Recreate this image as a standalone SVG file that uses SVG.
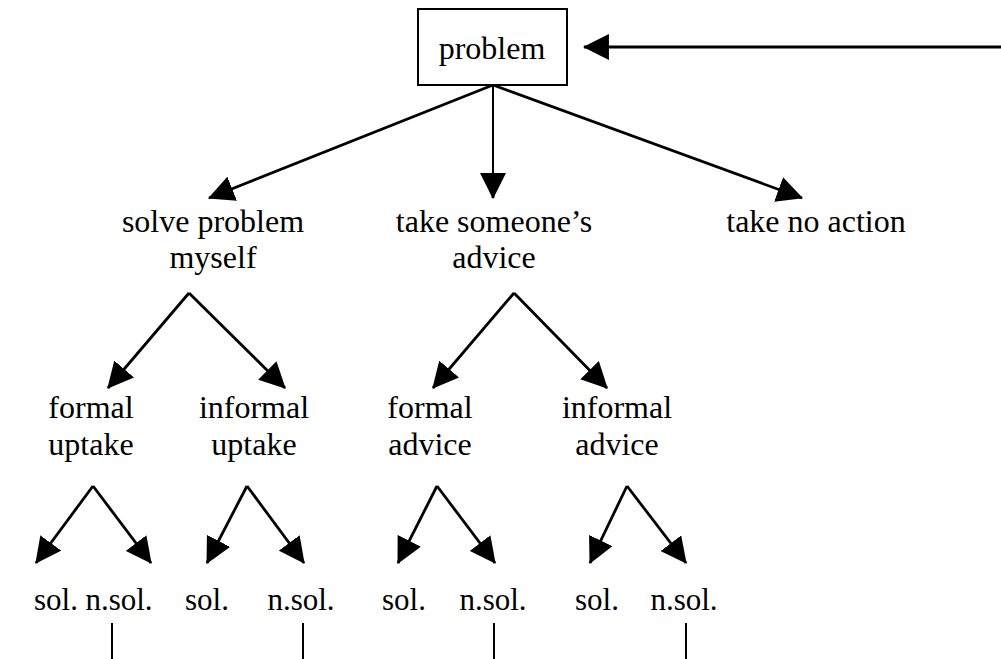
<svg xmlns="http://www.w3.org/2000/svg" width="1001" height="659" viewBox="0 0 1001 659">
  <style>
    text { font-family: "Liberation Serif", "Times New Roman", serif; font-size: 32px; fill: #000; text-anchor: middle; }
    text.leaf { font-size: 31px; }
    .edge { stroke: #000; stroke-width: 2.8; fill: none; marker-end: url(#head); }
    .thin { stroke: #000; stroke-width: 2; fill: none; }
    .box { fill: #fff; stroke: #000; stroke-width: 2; }
  </style>
  <defs>
    <marker id="head" markerUnits="userSpaceOnUse" markerWidth="26" markerHeight="26" viewBox="0 0 24 24" refX="23" refY="12" orient="auto">
      <path d="M0,0 L24,12 L0,24 z" fill="#000"/>
    </marker>
  </defs>
  <rect width="1001" height="659" fill="#fff"/>

  <g id="connectors">
    <!-- feedback into the problem box -->
    <line class="edge" x1="1001" y1="47" x2="584" y2="47"/>
    <!-- problem to its three responses -->
    <line class="edge" x1="493" y1="85" x2="209" y2="198"/>
    <line class="thin" x1="493" y1="85" x2="493" y2="180"/>
    <line class="edge" x1="493" y1="176" x2="493" y2="198"/>
    <line class="edge" x1="493" y1="85" x2="802" y2="198"/>
    <!-- second level -->
    <line class="edge" x1="189" y1="293" x2="108" y2="388"/>
    <line class="edge" x1="189" y1="293" x2="285" y2="388"/>
    <line class="edge" x1="514" y1="293" x2="433" y2="388"/>
    <line class="edge" x1="514" y1="293" x2="607" y2="388"/>
    <!-- outcomes -->
    <line class="edge" x1="93" y1="486" x2="36" y2="563"/>
    <line class="edge" x1="93" y1="486" x2="151" y2="563"/>
    <line class="edge" x1="247" y1="486" x2="207" y2="563"/>
    <line class="edge" x1="247" y1="486" x2="304" y2="563"/>
    <line class="edge" x1="437" y1="486" x2="398" y2="563"/>
    <line class="edge" x1="437" y1="486" x2="495" y2="563"/>
    <line class="edge" x1="627" y1="486" x2="590" y2="563"/>
    <line class="edge" x1="627" y1="486" x2="686" y2="563"/>
    <!-- continuation below unsolved outcomes -->
    <line class="thin" x1="112" y1="623" x2="112" y2="659"/>
    <line class="thin" x1="303" y1="623" x2="303" y2="659"/>
    <line class="thin" x1="494" y1="623" x2="494" y2="659"/>
    <line class="thin" x1="686" y1="623" x2="686" y2="659"/>
  </g>

  <g id="problem">
    <rect class="box" x="418" y="9" width="149" height="76"/>
    <text x="492" y="59">problem</text>
  </g>

  <g id="solve-myself">
    <text x="213" y="232">solve problem</text>
    <text x="213" y="268">myself</text>
  </g>
  <g id="take-advice">
    <text x="494" y="232">take someone’s</text>
    <text x="494" y="268">advice</text>
  </g>
  <g id="no-action">
    <text x="816" y="232">take no action</text>
  </g>

  <g id="formal-uptake">
    <text x="91" y="418">formal</text>
    <text x="91" y="455">uptake</text>
  </g>
  <g id="informal-uptake">
    <text x="254" y="418">informal</text>
    <text x="254" y="455">uptake</text>
  </g>
  <g id="formal-advice">
    <text x="430" y="418">formal</text>
    <text x="430" y="455">advice</text>
  </g>
  <g id="informal-advice">
    <text x="617" y="418">informal</text>
    <text x="617" y="455">advice</text>
  </g>

  <g id="fu-sol"><text class="leaf" x="56" y="610">sol.</text></g>
  <g id="fu-nsol"><text class="leaf" x="119" y="610">n.sol.</text></g>
  <g id="iu-sol"><text class="leaf" x="207" y="610">sol.</text></g>
  <g id="iu-nsol"><text class="leaf" x="301" y="610">n.sol.</text></g>
  <g id="fa-sol"><text class="leaf" x="404" y="610">sol.</text></g>
  <g id="fa-nsol"><text class="leaf" x="493" y="610">n.sol.</text></g>
  <g id="ia-sol"><text class="leaf" x="597" y="610">sol.</text></g>
  <g id="ia-nsol"><text class="leaf" x="684" y="610">n.sol.</text></g>
</svg>
